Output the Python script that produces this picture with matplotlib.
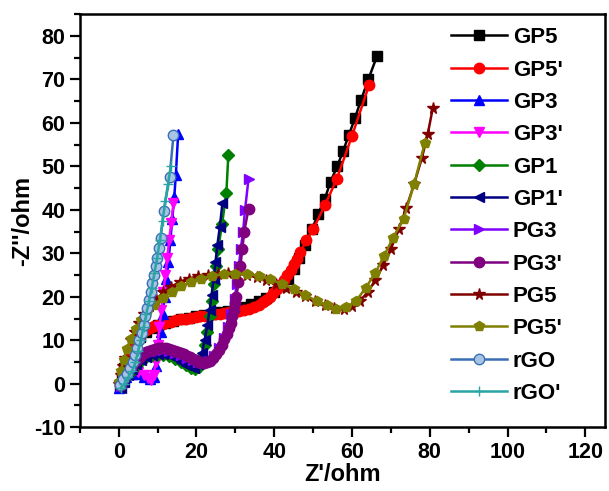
import matplotlib
matplotlib.use("Agg")
import matplotlib.pyplot as plt
from matplotlib.ticker import MultipleLocator

plt.rcParams['font.family'] = ['Liberation Sans', 'DejaVu Sans']
plt.rcParams['font.weight'] = 'bold'
plt.rcParams['axes.unicode_minus'] = False

# Nyquist data (Z', -Z'')
gp5_x = [0.3, 0.8, 1.5, 2.3, 3.2, 4.3, 5.5, 7, 8.5, 10, 12, 14, 16, 18, 20, 22, 24, 26, 28, 30,
         32, 34, 36, 38, 40, 42, 43.5, 45, 46.5, 48, 49.7, 51.3, 53, 54.5, 56.2, 57.7, 59.2, 60.8,
         62.3, 64.2, 66.4]
gp5_y = [-0.5, 1.5, 3.5, 5.5, 7.5, 9.3, 10.8, 12, 12.9, 13.5, 14, 14.4, 14.8, 15.2, 15.5, 15.8,
         16.1, 16.4, 16.8, 17.2, 17.7, 18.3, 19, 19.8, 21, 22.5, 24, 26.5, 29, 32, 35.5, 39, 42.5,
         46.5, 50, 53.5, 57.2, 61.2, 65.2, 70, 75.3]

gp5p_x = [0.3, 1, 2, 3, 4.2, 5.5, 7, 8, 9, 10.2, 11.5, 12.5, 13.5, 14.8, 16, 17.2, 18.5, 19.8,
          21, 22.2, 23.5, 24.8, 26, 27.2, 28.5, 29.8, 31, 32.2, 33.5, 34.8, 36, 37, 38, 39, 39.8,
          40.7, 41.5, 42.4, 43.3, 44.2, 45, 45.8, 46.7, 48.3, 50, 53, 56.1, 60, 64.4]
gp5p_y = [-0.3, 2, 4.5, 7, 9.2, 11, 12.3, 12.8, 13.2, 13.5, 13.8, 14.1, 14.3, 14.6, 14.8, 15,
          15.2, 15.4, 15.5, 15.6, 15.8, 16, 16.1, 16.3, 16.5, 16.6, 16.8, 17, 17.3, 17.7, 18.2,
          18.7, 19.3, 20, 20.8, 21.8, 22.8, 23.9, 25, 26.2, 27.5, 28.8, 30.2, 33, 35.5, 41, 47.1,
          57, 68.7]

gp3_x = [0, 1, 2, 3.5, 5, 6.5, 8, 9, 9.7, 10.3, 10.8, 11.3, 11.8, 12.3, 12.8, 13.3, 13.8, 14.3,
         14.7, 15.3]
gp3_y = [-1, 0.5, 1.5, 2.2, 2.2, 1.5, 1, 1.5, 4, 8, 12, 16, 20, 24, 28, 33, 38, 43, 48, 57.5]

gp3p_x = [0, 1, 2.2, 3.5, 5, 6.5, 7.5, 8.3, 9, 9.5, 10, 10.5, 11, 11.5, 12, 12.5, 13, 13.5, 14.1]
gp3p_y = [-0.5, 1, 2.5, 3, 2.8, 2, 1.2, 0.8, 2, 5, 9, 13, 17, 21, 25, 29, 33, 37, 41.5]

gp1_x = [0.5, 1.5, 2.5, 3.5, 4.5, 5.5, 6.8, 8.2, 9.8, 11.4, 13, 14.6, 16, 17.4, 18.6, 19.7, 20.7,
         21.5, 22.2, 22.8, 23.4, 24, 24.6, 25.1, 25.6, 26.6, 27.7, 28.2]
gp1_y = [-0.5, 1, 2, 3, 4, 5, 5.8, 6.3, 6.6, 6.6, 6.3, 5.7, 5, 4.2, 3.6, 3.3, 3.8, 6, 9, 12,
         15.5, 19, 23, 27, 31, 36.8, 43.9, 52.6]

gp1p_x = [0.5, 1.5, 2.5, 3.5, 4.5, 5.7, 7, 8.5, 10, 11.5, 13, 14.5, 16, 17.4, 18.6, 19.5, 20.5,
          21.4, 22.1, 22.8, 23.4, 23.9, 24.4, 24.9, 25.4, 26, 26.7]
gp1p_y = [-1, 0.5, 2, 3.3, 4.5, 5.5, 6.2, 6.6, 6.8, 6.8, 6.5, 5.9, 5.1, 4.3, 3.8, 3.6, 4.5, 7,
          10, 13.5, 17, 20.5, 24, 28, 32, 36, 41.6]

pg3_x = [0.5, 1.5, 2.5, 3.5, 4.5, 5.5, 7, 8.5, 10, 11.5, 13, 14.5, 16, 17.5, 19, 20.5, 22, 23.3,
         24.6, 25.8, 27, 28, 29, 29.8, 30.4, 30.9, 31.4, 32, 32.5, 33.4]
pg3_y = [-0.5, 1, 2.5, 3.8, 5, 6, 6.8, 7.3, 7.6, 7.7, 7.5, 7.1, 6.6, 6, 5.4, 4.9, 4.7, 5.2, 6.4,
         8.2, 10.5, 13, 16, 19.5, 23, 27, 31, 35, 40, 47.2]

pg3p_x = [0.5, 1.5, 2.5, 3.5, 4.5, 5.5, 6.3, 7, 7.8, 8.5, 9.3, 10, 10.8, 11.5, 12.3, 13, 13.8,
          14.5, 15.3, 16, 16.8, 17.5, 18.3, 19, 19.8, 20.5, 21.3, 22, 22.8, 23.5, 24.3, 25, 25.8,
          26.5, 27.2, 27.8, 28.3, 28.8, 29.2, 29.6, 30, 30.3, 30.8, 31.3, 31.8, 32.3, 33.4]
pg3p_y = [-0.3, 1.2, 2.7, 4, 5.2, 6.2, 6.8, 7.2, 7.5, 7.8, 8, 8.1, 8.2, 8.2, 8.1, 8, 7.8, 7.6,
          7.4, 7.1, 6.8, 6.4, 6.1, 5.7, 5.4, 5.1, 4.9, 4.8, 4.9, 5.3, 6, 6.8, 7.8, 9, 10.2, 11.5,
          12.8, 14, 15.5, 17, 18.5, 20, 23.5, 27, 31, 35, 40.3]

pg5_x = [0, 0.5, 1, 1.6, 2.3, 3.2, 4.2, 5.3, 6.6, 8, 9.7, 11.5, 13.5, 15.7, 18, 20.5, 23, 25.5,
         28, 30.5, 33, 35.5, 38, 40.5, 43, 45.5, 48, 50.5, 53, 55.5, 58, 60, 62, 64, 66, 68, 70,
         72, 74, 76, 78, 79.5, 80.8]
pg5_y = [0, 2, 4, 6, 8, 10, 12, 14, 16, 17.8, 19.5, 21, 22.3, 23.4, 24.2, 24.7, 25.1, 25.3, 25.4,
         25.3, 25, 24.5, 23.8, 23, 22.1, 21.1, 20.1, 19.1, 18.2, 17.5, 17.3, 17.8, 19, 21, 23.8,
         27.2, 31, 35.5, 40.5, 46, 52, 57.5, 63.5]

pg5p_x = [0, 0.6, 1.3, 2.2, 3.2, 4.4, 5.8, 7.4, 9.2, 11.3, 13.6, 16, 18.6, 21.3, 24, 27, 30, 33,
          36, 39, 42, 45, 48, 51, 53.5, 56, 58.5, 61, 63.5, 66, 68.2, 70.5, 73.3, 76, 78.7]
pg5p_y = [0.5, 3, 5.5, 8, 10.3, 12.5, 14.6, 16.5, 18.2, 19.8, 21.2, 22.4, 23.4, 24.2, 24.8, 25.2,
          25.3, 25.2, 24.8, 24, 23, 21.8, 20.4, 19, 18, 17.3, 17.6, 19, 22, 25.5, 29.3, 33.5, 38,
          46, 55.3]

rgo_x = [0.3, 1.2, 2.2, 3, 3.7, 4.3, 4.8, 5.3, 5.9, 6.4, 6.9, 7.4, 7.9, 8.3, 8.7, 9.1, 9.5, 9.9,
         10.4, 10.8, 11.6, 13.1, 14.1]
rgo_y = [-0.3, 1, 2.3, 3.5, 5, 6.5, 8.2, 10, 11.7, 13.5, 15.5, 17.4, 19.3, 21.2, 23.1, 25, 27, 29,
         31.3, 33.6, 39.8, 47.6, 57.2]

rgop_x = [0.5, 1.5, 2.5, 3.5, 4.3, 5, 5.7, 6.4, 7.1, 7.8, 8.5, 9.2, 9.9, 10.6, 11.3, 12, 12.7, 13.4]
rgop_y = [-1, 0, 1.5, 3, 5, 7.5, 10, 13, 16, 19, 22, 25.5, 29, 33, 37.5, 42, 46, 50]

series = [
    ("GP5", gp5_x, gp5_y, 'black', 's', 'black'),
    ("GP5'", gp5p_x, gp5p_y, '#ff0000', 'o', '#ff0000'),
    ("GP3", gp3_x, gp3_y, '#0000ff', '^', '#0000ff'),
    ("GP3'", gp3p_x, gp3p_y, '#ff00ff', 'v', '#ff00ff'),
    ("GP1", gp1_x, gp1_y, '#008000', 'D', '#008000'),
    ("GP1'", gp1p_x, gp1p_y, '#000080', '<', '#000080'),
    ("PG3", pg3_x, pg3_y, '#8000ff', '>', '#8000ff'),
    ("PG3'", pg3p_x, pg3p_y, '#800080', 'o', '#800080'),
    ("PG5", pg5_x, pg5_y, '#800000', '*', '#800000'),
    ("PG5'", pg5p_x, pg5p_y, '#808000', 'p', '#808000'),
    ("rGO", rgo_x, rgo_y, '#3a6fb5', 'o', '#a8c4e4'),
    ("rGO'", rgop_x, rgop_y, '#2aa5a5', '+', '#2aa5a5'),
]

fig = plt.figure(figsize=(6.09, 4.91), dpi=100)
ax = fig.add_axes([0.131, 0.130, 0.862, 0.841])

for name, xs, ys, col, mk, fc in series:
    ms = 7.5
    if mk == '*':
        ms = 8.5
    if mk == 'D':
        ms = 6.5
    ax.plot(xs, ys, color=col, marker=mk, markersize=ms, markerfacecolor=fc,
            markeredgecolor=col, markeredgewidth=1.0, linewidth=1.8, label=name)

ax.set_xlim(-10, 125)
ax.set_ylim(-10, 85)
ax.xaxis.set_major_locator(MultipleLocator(20))
ax.xaxis.set_minor_locator(MultipleLocator(10))
ax.yaxis.set_major_locator(MultipleLocator(10))
ax.yaxis.set_minor_locator(MultipleLocator(5))
ax.tick_params(which='both', direction='out', top=False, right=False, width=1.6,
               labelsize=15.5)
ax.tick_params(which='major', length=7)
ax.tick_params(which='minor', length=4)
for s in ax.spines.values():
    s.set_linewidth(1.8)

ax.set_xlabel("Z'/ohm", fontsize=17, fontweight='bold', labelpad=0)
ax.set_ylabel("-Z''/ohm", fontsize=17, fontweight='bold', labelpad=0)

leg = ax.legend(loc='upper left', bbox_to_anchor=(0.691, 0.99), frameon=False,
                fontsize=16, handlelength=2.5, handletextpad=0.27, labelspacing=0.51,
                borderaxespad=0)

plt.savefig('out.png', dpi=100)
